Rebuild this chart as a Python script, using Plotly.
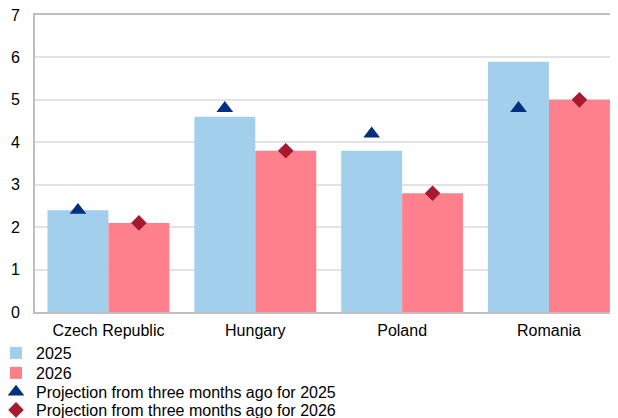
import plotly.graph_objects as go

countries = ['Czech Republic', 'Hungary', 'Poland', 'Romania']
values_2025 = [2.4, 4.6, 3.8, 5.9]
values_2026 = [2.1, 3.8, 2.8, 5.0]
proj_2025 = [2.4, 4.8, 4.2, 4.8]
proj_2026 = [2.1, 3.8, 2.8, 5.0]

BLUE = '#A2CFEB'
PINK = '#FF808D'
NAVY = '#00307F'
RED = '#A6192E'

# the page has an 8px body margin, so the figure is made 8px smaller
W, H = 610, 410
L, T, B = 27, 7, 106
PLOT_W = W - L

fig = go.Figure()

fig.add_trace(go.Bar(x=countries, y=values_2025, name='2025',
                     marker=dict(color=BLUE, line=dict(width=0)),
                     offsetgroup='a', legend='legend'))
fig.add_trace(go.Bar(x=countries, y=values_2026, name='2026',
                     marker=dict(color=PINK, line=dict(width=0)),
                     offsetgroup='b', legend='legend2'))

fig.add_trace(go.Scatter(x=countries, y=proj_2025, mode='markers',
                         name='Projection from three months ago for 2025',
                         marker=dict(symbol='triangle-up', size=14.5, color=NAVY),
                         offsetgroup='a', legend='legend3'))
fig.add_trace(go.Scatter(x=countries, y=proj_2026, mode='markers',
                         name='Projection from three months ago for 2026',
                         marker=dict(symbol='diamond', size=12, color=RED),
                         offsetgroup='b', legend='legend4'))

# one legend per entry so the rows sit as tightly as in the original
def leg(y):
    return dict(xref='paper', yref='container', x=-(L + 12) / PLOT_W,
                xanchor='left', y=y, yanchor='middle', orientation='v',
                itemwidth=30, font=dict(size=16), bgcolor='rgba(0,0,0,0)')

fig.update_layout(
    width=W, height=H,
    margin=dict(l=L, r=0, t=T, b=B, autoexpand=False),
    plot_bgcolor='white',
    paper_bgcolor='white',
    font=dict(family='Liberation Sans, Arial, sans-serif', size=16, color='black'),
    barmode='group',
    bargap=0.17,
    bargroupgap=0,
    scattermode='group',
    scattergap=0.17,
    showlegend=True,
    legend=leg(1 - 345 / H),
    legend2=leg(1 - 365 / H),
    legend3=leg(1 - 384 / H),
    legend4=leg(1 - 402 / H),
)

fig.update_xaxes(showline=True, linecolor='#BFBFBF', linewidth=2, mirror=True,
                 showgrid=False, ticks='', ticklen=0, range=[-0.5, 3.47],
                 tickangle=0, ticklabelstandoff=3)
fig.update_yaxes(range=[0, 7], dtick=1, showline=True, linecolor='#BFBFBF',
                 linewidth=2, showgrid=True, gridcolor='#E3E3E3', gridwidth=1.5,
                 zeroline=False, ticks='', ticklabelstandoff=10,
                 ticklabeloverflow='allow')

fig.write_html('out.html')
